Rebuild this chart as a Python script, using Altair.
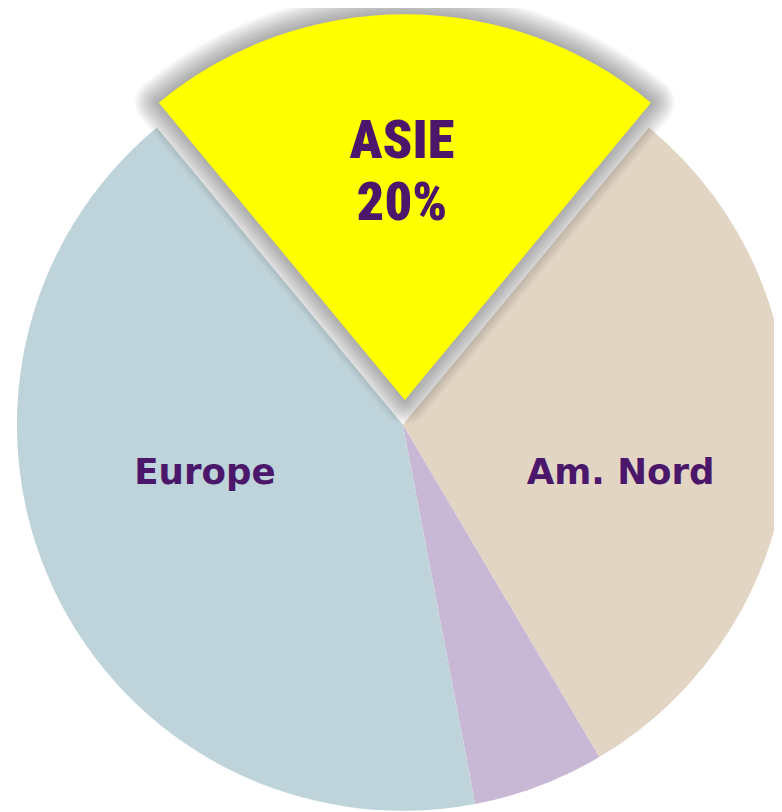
import math
import altair as alt
import pandas as pd

# Data
categories = ["ASIE", "Am. Nord", "Autres", "Europe"]
shares = [22.0, 30.5, 5.5, 42.0]
order = [0, 1, 2, 3]
colors = ["#FFFF00", "#E3D5C4", "#C9B8D5", "#BFD4DA"]
asie_lines = ["ASIE", "20%"]
side_labels = ["Europe", "Am. Nord"]

df = pd.DataFrame({"cat": categories, "share": shares, "ordre": order})

start = -math.pi * shares[0] / 100.0
theta = alt.Theta("share:Q", stack=True,
                  scale=alt.Scale(range=[start, start + 2 * math.pi]))
color = alt.Color("cat:N", scale=alt.Scale(domain=categories, range=colors), legend=None)
ordr = alt.Order("ordre:Q")

R = 390
CX, CY = 399, 417
AX, AY = 401, 392
TXT = "#4A176B"
NARROW = "Roboto Condensed, Liberation Sans Narrow, Arial Narrow, DejaVu Sans Condensed, sans-serif"

is_asie = alt.datum.cat == "ASIE"

base = alt.Chart(df).mark_arc(radius=R).encode(
    theta=theta, color=color, order=ordr,
    x=alt.value(CX), y=alt.value(CY),
    opacity=alt.condition(is_asie, alt.value(0), alt.value(1)),
)

shadows = []
for w in [48, 44, 40, 36, 32, 28, 24, 20, 16, 12, 8, 4]:
    shadows.append(
        alt.Chart(df).mark_arc(radius=R, fillOpacity=0, stroke="#3a3a3a",
                               strokeWidth=w, strokeOpacity=0.045,
                               strokeJoin="round").encode(
            theta=theta, order=ordr,
            x=alt.value(AX), y=alt.value(AY),
            opacity=alt.condition(is_asie, alt.value(1), alt.value(0)),
        )
    )

asie = alt.Chart(df).mark_arc(radius=R).encode(
    theta=theta, color=color, order=ordr,
    x=alt.value(AX), y=alt.value(AY),
    opacity=alt.condition(is_asie, alt.value(1), alt.value(0)),
)

t1 = alt.Chart(pd.DataFrame({"t": [asie_lines[0]]})).mark_text(
    font=NARROW, fontWeight=900, fontSize=55,
    color=TXT, align="center", baseline="alphabetic").encode(
    text="t:N", x=alt.value(398), y=alt.value(147))
t2 = alt.Chart(pd.DataFrame({"t": [asie_lines[1]]})).mark_text(
    font=NARROW, fontWeight=900, fontSize=55,
    color=TXT, align="center", baseline="alphabetic").encode(
    text="t:N", x=alt.value(398), y=alt.value(210))
t3 = alt.Chart(pd.DataFrame({"t": [side_labels[0]]})).mark_text(
    font="DejaVu Sans", fontWeight="bold", fontSize=36,
    color=TXT, align="center", baseline="alphabetic").encode(
    text="t:N", x=alt.value(199), y=alt.value(477))
t4 = alt.Chart(pd.DataFrame({"t": [side_labels[1]]})).mark_text(
    font="DejaVu Sans", fontWeight="bold", fontSize=36,
    color=TXT, align="center", baseline="alphabetic").encode(
    text="t:N", x=alt.value(619), y=alt.value(477))

chart = alt.layer(base, *shadows, asie, t1, t2, t3, t4).properties(
    width=774, height=804,
    autosize=alt.AutoSizeParams(type="none"),
    padding=0,
).configure_view(stroke=None)

chart.save("out.html", embed_options={"renderer": "svg", "actions": False})
